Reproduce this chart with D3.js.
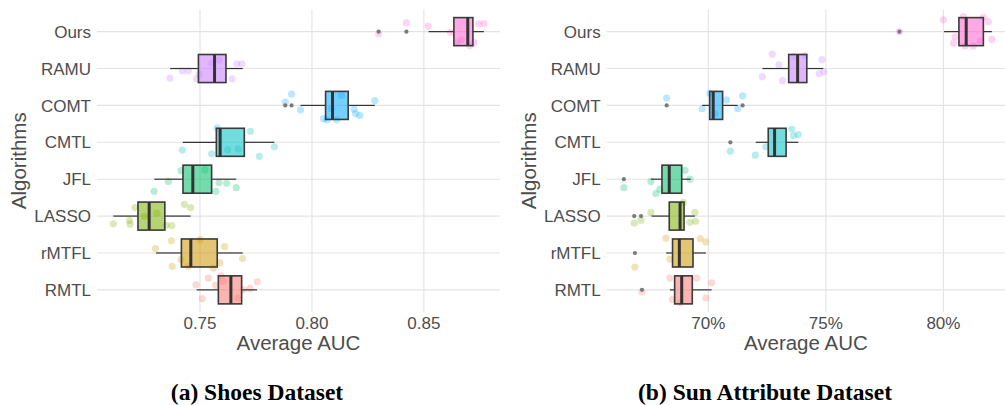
<!DOCTYPE html>
<html>
<head>
<meta charset="utf-8">
<script src="https://cdn.jsdelivr.net/npm/d3@7"></script>
<style>
  html, body { margin: 0; padding: 0; background: #fff; }
  svg { display: block; font-family: "Liberation Sans", Arial, sans-serif; }
  .caption { font-family: "Liberation Serif", "Times New Roman", serif; font-weight: bold; }
</style>
</head>
<body>
<div id="chart"></div>
<script>
// categories, top to bottom
const algorithms = ["Ours", "RAMU", "COMT", "CMTL", "JFL", "LASSO", "rMTFL", "RMTL"];

// box stats per algorithm: [whisker low, q1, median, q3, whisker high]
const shoesBoxes = [
  [0.8521, 0.8634, 0.8696, 0.8719, 0.8768],
  [0.7367, 0.7493, 0.7565, 0.7616, 0.7691],
  [0.7949, 0.8061, 0.8092, 0.8162, 0.8281],
  [0.7423, 0.7573, 0.7590, 0.7698, 0.7832],
  [0.7296, 0.7424, 0.7468, 0.7552, 0.7662],
  [0.7113, 0.7223, 0.7273, 0.7343, 0.7458],
  [0.7304, 0.7417, 0.7459, 0.7577, 0.7691],
  [0.7485, 0.7582, 0.7638, 0.7686, 0.7755]
];
const shoesOutliers = [[0.8298, 0.8422], [], [0.7881, 0.7909], [], [], [], [], []];
// runs: [value, jitter in row units]
const shoesPoints = [
  [[0.8298, 0.06], [0.8422, -0.24], [0.8519, -0.15], [0.8619, 0.02], [0.8646, 0.31], [0.8668, 0.22], [0.8705, 0.38], [0.8724, 0.30], [0.8745, -0.21], [0.8769, -0.22]],
  [[0.7366, 0.26], [0.7421, 0.06], [0.7448, 0.06], [0.7485, 0.28], [0.7496, 0.15], [0.7552, -0.15], [0.7585, -0.23], [0.7644, 0.28], [0.7664, -0.13], [0.7687, -0.13]],
  [[0.7881, -0.09], [0.7909, -0.31], [0.7949, 0.12], [0.8052, 0.36], [0.8068, 0.39], [0.8087, 0.09], [0.8111, 0.39], [0.8132, -0.27], [0.8188, 0.10], [0.8195, 0.22], [0.8214, 0.27], [0.8281, -0.13]],
  [[0.7421, 0.21], [0.7552, 0.31], [0.7577, -0.39], [0.7624, 0.20], [0.7671, 0.18], [0.7725, -0.30], [0.7765, 0.38], [0.7832, 0.12]],
  [[0.7295, 0.33], [0.7359, 0.06], [0.7415, -0.23], [0.7522, -0.25], [0.7571, 0.33], [0.7585, 0.09], [0.7619, 0.11], [0.7662, 0.23]],
  [[0.7113, 0.21], [0.7185, 0.12], [0.7188, 0.22], [0.7210, -0.23], [0.7252, 0.01], [0.7307, -0.08], [0.7348, 0.25], [0.7374, 0.26], [0.7430, -0.32], [0.7458, -0.23]],
  [[0.7301, -0.12], [0.7372, -0.33], [0.7376, 0.36], [0.7415, 0.18], [0.7448, 0.36], [0.7501, -0.36], [0.7560, 0.41], [0.7589, 0.27], [0.7610, -0.17], [0.7690, 0.15]],
  [[0.7482, -0.14], [0.7510, 0.24], [0.7537, -0.32], [0.7570, -0.12], [0.7594, -0.39], [0.7604, -0.23], [0.7668, 0.22], [0.7693, 0], [0.7723, -0.04], [0.7756, -0.22]]
];
const shoesTicks = [0.75, 0.80, 0.85];

const sunBoxes = [
  [80.03, 80.66, 80.97, 81.70, 82.06],
  [72.30, 73.42, 73.80, 74.19, 74.89],
  [69.74, 70.06, 70.21, 70.61, 71.25],
  [72.02, 72.55, 72.82, 73.31, 73.83],
  [67.56, 68.03, 68.34, 68.87, 69.25],
  [67.59, 68.34, 68.80, 68.97, 69.43],
  [68.21, 68.48, 68.77, 69.35, 69.90],
  [68.37, 68.57, 68.87, 69.32, 70.14]
];
const sunOutliers = [[78.13], [], [68.23, 71.46], [70.94], [66.41], [66.85, 67.14], [66.88], [67.18]];
const sunPoints = [
  [[78.13, 0], [80.0, -0.32], [80.43, 0.31], [80.50, 0.14], [80.85, -0.41], [80.92, 0.39], [81.28, 0.39], [81.56, 0.24], [81.70, -0.39], [81.91, -0.27], [82.06, 0.21]],
  [[72.30, 0.22], [72.72, -0.39], [73.01, -0.10], [73.16, 0.33], [73.66, -0.32], [74.11, -0.35], [74.72, 0.14], [74.83, -0.24], [74.92, 0.09]],
  [[68.23, -0.20], [69.74, 0.09], [70.07, -0.33], [70.29, 0.22], [70.78, -0.15], [71.25, 0.09], [71.46, -0.26]],
  [[70.94, 0.24], [72.0, 0.35], [72.44, 0.12], [73.55, -0.36], [73.62, -0.18], [73.83, -0.21]],
  [[66.41, 0.23], [67.56, 0.06], [67.77, 0.39], [67.94, 0.27], [69.01, -0.24], [69.22, 0]],
  [[66.85, 0.19], [67.14, 0.11], [67.56, -0.10], [68.94, -0.37], [69.22, 0.17], [69.43, -0.10], [69.46, 0.14]],
  [[66.88, 0.38], [68.20, -0.40], [68.37, 0.17], [69.66, -0.39], [69.90, -0.30]],
  [[67.18, 0.06], [68.37, -0.32], [68.48, 0.26], [68.80, 0.35], [69.51, -0.32], [69.90, 0.22], [70.14, -0.19]]
];
const sunTicks = [70, 75, 80];

// ggplot hue palette, same order as algorithms
const colors = ["#FF61CC", "#C77CFF", "#00A9FF", "#00BFC4", "#00BE67", "#7CAE00", "#CD9600", "#F8766D"];

class BoxPanel {
  constructor(_config, _boxes, _outliers, _points) {
    this.config = {
      svg: _config.svg,
      left: _config.left,
      right: _config.right,
      top: 9.5,
      bottom: 312,
      domain: _config.domain,
      ticks: _config.ticks,
      tickFormat: _config.tickFormat,
      caption: _config.caption,
      captionX: _config.captionX
    };
    this.boxes = _boxes;
    this.outliers = _outliers;
    this.points = _points;
    this.initVis();
  }

  initVis() {
    let vis = this;
    const c = vis.config;

    vis.x = d3.scaleLinear().domain(c.domain).range([c.left, c.right]);
    vis.y = d3.scalePoint().domain(algorithms).range([c.top, c.bottom]).padding(0.6);
    vis.step = vis.y.step();
    vis.color = d3.scaleOrdinal().domain(algorithms).range(colors);

    vis.chart = c.svg.append("g");
    vis.renderVis();
  }

  renderVis() {
    let vis = this;
    const c = vis.config;
    const bh = vis.step * 0.38;

    // grid
    vis.chart.append("g")
      .selectAll("line.vg")
      .data(c.ticks)
      .join("line")
      .attr("x1", d => vis.x(d)).attr("x2", d => vis.x(d))
      .attr("y1", c.top).attr("y2", c.bottom)
      .attr("stroke", "#e3e3e3").attr("stroke-width", 1.1);
    vis.chart.append("g")
      .selectAll("line.hg")
      .data(algorithms)
      .join("line")
      .attr("x1", c.left).attr("x2", c.right)
      .attr("y1", d => vis.y(d)).attr("y2", d => vis.y(d))
      .attr("stroke", "#e3e3e3").attr("stroke-width", 1.1);

    // jittered runs
    const pts = [];
    vis.points.forEach((arr, i) => arr.forEach(p => pts.push({ alg: algorithms[i], v: p[0], j: p[1] })));
    vis.chart.append("g")
      .selectAll("circle")
      .data(pts)
      .join("circle")
      .attr("cx", d => vis.x(d.v))
      .attr("cy", d => vis.y(d.alg) + d.j * vis.step)
      .attr("r", 3.6)
      .attr("fill", d => vis.color(d.alg))
      .attr("fill-opacity", 0.28);

    // boxes
    const boxData = vis.boxes.map((b, i) => ({ alg: algorithms[i], s: b }));
    const g = vis.chart.append("g")
      .selectAll("g")
      .data(boxData)
      .join("g");

    g.append("line")
      .attr("x1", d => vis.x(d.s[0])).attr("x2", d => vis.x(d.s[1]))
      .attr("y1", d => vis.y(d.alg)).attr("y2", d => vis.y(d.alg))
      .attr("stroke", "#333").attr("stroke-width", 1.2);
    g.append("line")
      .attr("x1", d => vis.x(d.s[3])).attr("x2", d => vis.x(d.s[4]))
      .attr("y1", d => vis.y(d.alg)).attr("y2", d => vis.y(d.alg))
      .attr("stroke", "#333").attr("stroke-width", 1.2);
    g.append("rect")
      .attr("x", d => vis.x(d.s[1]))
      .attr("width", d => vis.x(d.s[3]) - vis.x(d.s[1]))
      .attr("y", d => vis.y(d.alg) - bh)
      .attr("height", bh * 2)
      .attr("fill", d => vis.color(d.alg))
      .attr("fill-opacity", 0.55)
      .attr("stroke", "#3a3a3a").attr("stroke-width", 1.6);
    g.append("line")
      .attr("x1", d => vis.x(d.s[2])).attr("x2", d => vis.x(d.s[2]))
      .attr("y1", d => vis.y(d.alg) - bh).attr("y2", d => vis.y(d.alg) + bh)
      .attr("stroke", "#333").attr("stroke-width", 3);

    // outliers
    const outs = [];
    vis.outliers.forEach((arr, i) => arr.forEach(v => outs.push({ alg: algorithms[i], v: v })));
    vis.chart.append("g")
      .selectAll("circle")
      .data(outs)
      .join("circle")
      .attr("cx", d => vis.x(d.v))
      .attr("cy", d => vis.y(d.alg))
      .attr("r", 2.1)
      .attr("fill", "#7a7a7a");

    // axes text
    vis.chart.append("g")
      .selectAll("text")
      .data(algorithms)
      .join("text")
      .attr("x", c.left - 6)
      .attr("y", d => vis.y(d))
      .attr("dy", "0.36em")
      .attr("text-anchor", "end")
      .attr("font-size", 17)
      .attr("fill", "#4d4d4d")
      .text(d => d);

    vis.chart.append("g")
      .selectAll("text")
      .data(c.ticks)
      .join("text")
      .attr("x", d => vis.x(d))
      .attr("y", 329)
      .attr("text-anchor", "middle")
      .attr("font-size", 17)
      .attr("fill", "#4d4d4d")
      .text(c.tickFormat);

    vis.chart.append("text")
      .attr("x", (c.left + c.right) / 2)
      .attr("y", 350)
      .attr("text-anchor", "middle")
      .attr("font-size", 20.5)
      .attr("fill", "#4d4d4d")
      .text("Average AUC");

    vis.chart.append("text")
      .attr("transform", `translate(${c.left - 71},${(c.top + c.bottom) / 2}) rotate(-90)`)
      .attr("text-anchor", "middle")
      .attr("font-size", 20.5)
      .attr("fill", "#4d4d4d")
      .text("Algorithms");

    vis.chart.append("text")
      .attr("class", "caption")
      .attr("x", c.captionX)
      .attr("y", 400)
      .attr("text-anchor", "middle")
      .attr("font-size", 23.5)
      .attr("fill", "#000")
      .text(c.caption);
  }
}

const svg = d3.select("#chart").append("svg")
  .attr("width", 1005)
  .attr("height", 405);

new BoxPanel({
  svg: svg, left: 97, right: 500,
  domain: [0.704, 0.884],
  ticks: shoesTicks,
  tickFormat: d3.format(".2f"),
  caption: "(a) Shoes Dataset",
  captionX: 257
}, shoesBoxes, shoesOutliers, shoesPoints);

new BoxPanel({
  svg: svg, left: 606.7, right: 1005,
  domain: [65.68, 82.62],
  ticks: sunTicks,
  tickFormat: d => d + "%",
  caption: "(b) Sun Attribute Dataset",
  captionX: 765
}, sunBoxes, sunOutliers, sunPoints);
</script>
</body>
</html>
